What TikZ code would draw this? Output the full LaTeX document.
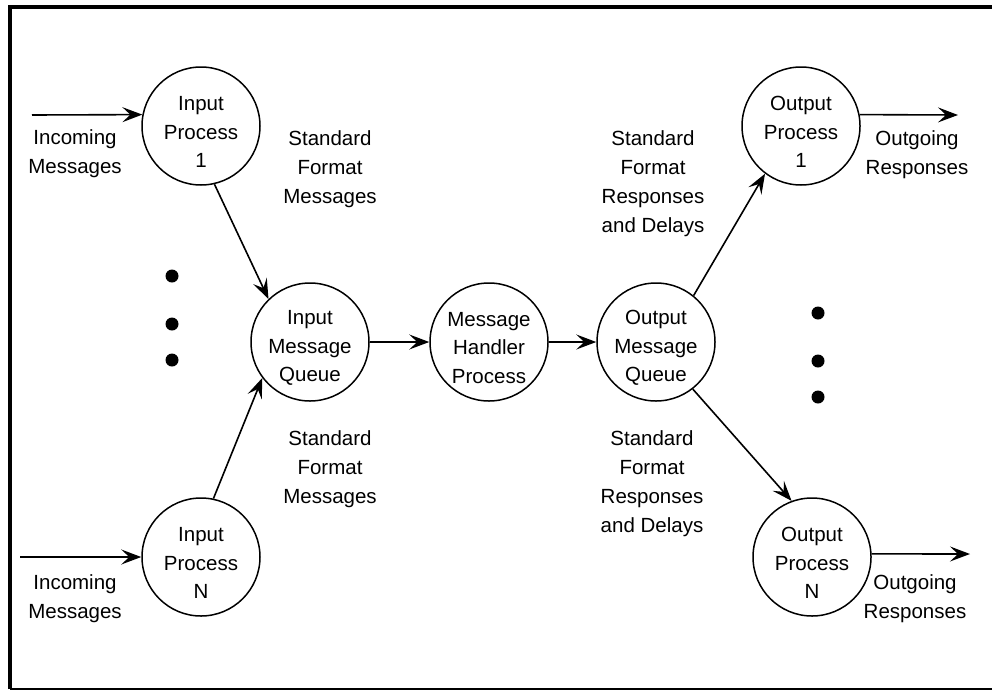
\documentclass[tikz,border=0pt]{standalone}
\usepackage{fontspec}
\setmainfont{Liberation Sans}
\usetikzlibrary{arrows.meta}
\begin{document}
\begin{tikzpicture}[x=1pt,y=-1pt,
  lbl/.style={align=center,font=\fontsize{20.5}{29}\selectfont,inner sep=0pt},
  proc/.style={draw,circle,line width=1.5pt,minimum size=118pt,inner sep=0pt},
  ptext/.style={lbl,font=\fontsize{20.5}{28.5}\selectfont,yshift=-6pt},
  flow/.style={line width=1.6pt,-{Stealth[length=20pt,width=15pt,inset=8pt]}},
  dot/.style={circle,fill,inner sep=0pt,minimum size=13pt}]
\useasboundingbox (0,0) rectangle (992,691);
\draw[line width=3.5pt] (10,689) -- (10,7) -- (992,7);
\draw[line width=1.6pt] (10,689) -- (992,689);

\node[proc,label={[ptext]center:Input\\Process\\1}] (ip1) at (201,126) {};
\node[proc,label={[ptext]center:Input\\Process\\N}] (ipN) at (201,557) {};
\node[proc,label={[ptext]center:Input\\Message\\Queue}] (imq) at (310,342) {};
\node[proc,label={[ptext]center:Message\\Handler\\Process}] (mhp) at (489,342) {};
\node[proc,label={[ptext]center:Output\\Message\\Queue}] (omq) at (656,342) {};
\node[proc,label={[ptext]center:Output\\Process\\1}] (op1) at (801,126) {};
\node[proc,label={[ptext]center:Output\\Process\\N}] (opN) at (812,557) {};

\node[dot] (dl1) at (172,276) {};
\node[dot] (dl2) at (172,324) {};
\node[dot] (dl3) at (172,360) {};
\node[dot] (dr1) at (818,313) {};
\node[dot] (dr2) at (818,361) {};
\node[dot] (dr3) at (818,397) {};

\coordinate (in1) at (32,115);
\coordinate (inN) at (20,557);
\coordinate (out1) at (958,115);
\coordinate (outN) at (970,554);

\draw[flow] (in1) -- (ip1.169);
\draw[flow] (inN) -- (ipN.180);
\draw[flow] (ip1.-77) -- (imq.134);
\draw[flow] (ipN.78) -- (imq.-143);
\draw[flow] (imq) -- (mhp);
\draw[flow] (mhp) -- (omq);
\draw[flow] (omq.51) -- (op1.-127);
\draw[flow] (omq.-52) -- (opN.110);
\draw[flow] (op1.11) -- (out1);
\draw[flow] (opN.3) -- (outN);

\node[lbl] (lin1) at (75,154) {Incoming\\Messages};
\node[lbl] (linN) at (75,599) {Incoming\\Messages};
\node[lbl] (lsf1) at (330,169) {Standard\\Format\\Messages};
\node[lbl] (lsf2) at (330,469) {Standard\\Format\\Messages};
\node[lbl] (lsr1) at (653,184) {Standard\\Format\\Responses\\and Delays};
\node[lbl] (lsr2) at (652,484) {Standard\\Format\\Responses\\and Delays};
\node[lbl] (lout1) at (917,155) {Outgoing\\Responses};
\node[lbl] (loutN) at (915,599) {Outgoing\\Responses};
\end{tikzpicture}
\end{document}
